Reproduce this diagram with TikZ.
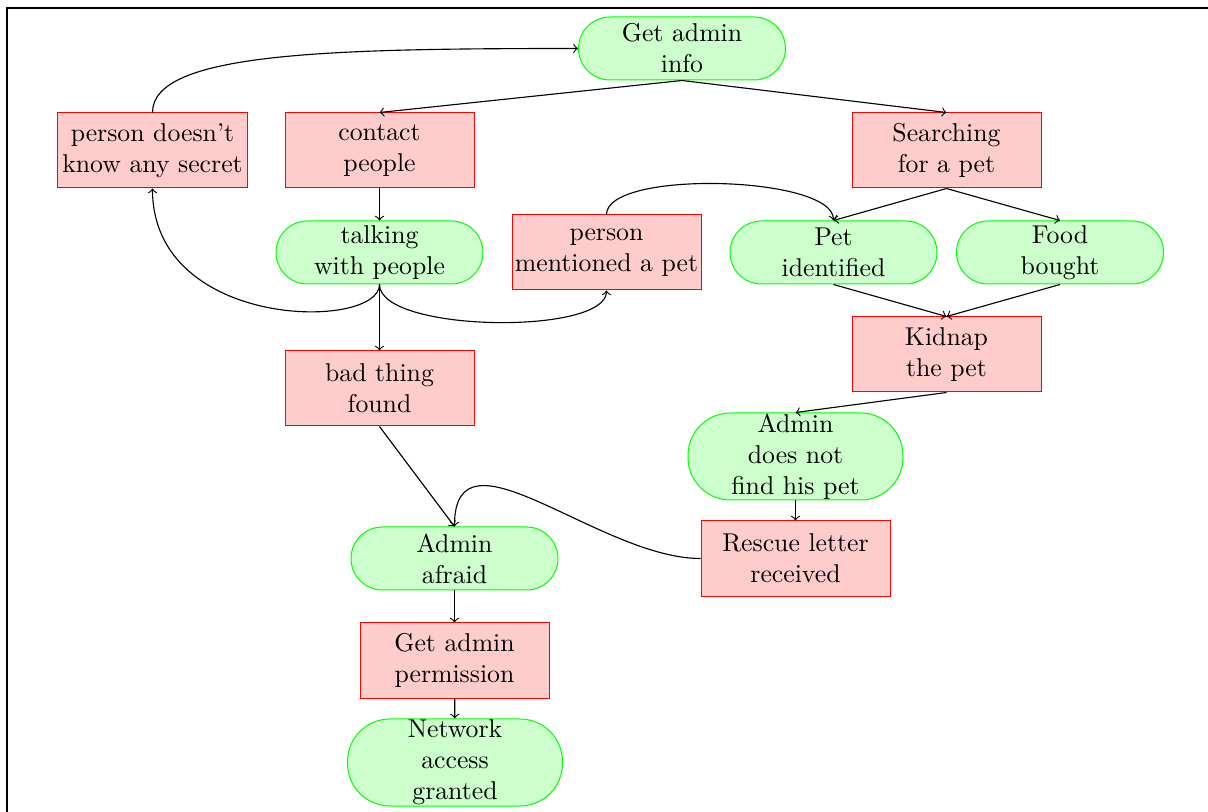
\documentclass[tikz,border=0pt]{standalone}
\usepackage{tikz}
\usetikzlibrary{arrows}

\tikzset{
  redbox/.style={rectangle, draw=red, fill=red!20, inner sep=0pt, align=center, thin,
                 font=\fontsize{10.3}{12.4}\selectfont,
                 minimum width=75.6pt, minimum height=30pt},
  greenbox/.style={rectangle, draw=green, fill=green!20, inner sep=0pt, align=center, thin,
                   font=\fontsize{10.3}{12.4}\selectfont,
                   rounded corners=12.6pt, minimum width=82.8pt, minimum height=25.2pt},
  tallgreen/.style={greenbox, rounded corners=17pt, minimum width=86pt, minimum height=34.8pt}
}

\begin{document}
\begin{tikzpicture}[x=0.4pt, y=0.4pt, >=to]
       \useasboundingbox (0,0) rectangle (1208,-812);
       % frame
       \draw [semithick] (7,-812) -- (7,-8) -- (1208,-8);

       % nodes
       \node [greenbox] (getinfo) at (682,-48.5) {Get admin\\info};
       \node [redbox] (nosecret) at (152.5,-150.5) {person doesn't\\know any secret};
       \node [redbox] (contact) at (379.5,-150.5) {contact\\people};
       \node [redbox] (search) at (946.5,-150.5) {Searching\\for a pet};
       \node [greenbox] (talking) at (379.5,-252.5) {talking\\with people};
       \node [redbox] (mentioned) at (606.5,-252.5) {person\\mentioned a pet};
       \node [greenbox] (petid) at (833.5,-252.5) {Pet\\identified};
       \node [greenbox] (food) at (1060,-252.5) {Food\\bought};
       \node [redbox] (kidnap) at (946.5,-354.5) {Kidnap\\the pet};
       \node [redbox] (badthing) at (379.5,-388.5) {bad thing\\found};
       \node [tallgreen] (notfind) at (795.5,-456.5) {Admin\\does not\\find his pet};
       \node [redbox] (rescue) at (795.5,-558.5) {Rescue letter\\received};
       \node [greenbox] (afraid) at (454.5,-558.5) {Admin\\afraid};
       \node [redbox] (permission) at (454.5,-660.5) {Get admin\\permission};
       \node [tallgreen] (granted) at (455,-762.5) {Network\\access\\granted};

       % edges
       \begin{scope}[line width=0.45pt]
       \draw [->] (getinfo.south) -- (contact.north);
       \draw [->] (getinfo.south) -- (search.north);
       \draw [->] (nosecret.north) .. controls +(0,60) and +(-250,0) .. (getinfo.west);
       \draw [->] (contact) -- (talking);
       \draw [->] (talking.south) .. controls +(0,-46) and +(0,-142) .. (nosecret.south);
       \draw [->] (talking.south) .. controls +(0,-48) and +(0,-45) .. (mentioned.south);
       \draw [->] (talking) -- (badthing);
       \draw [->] (mentioned.north) .. controls +(0,45) and +(0,45) .. (petid.north);
       \draw [->] (search.south) -- (petid.north);
       \draw [->] (search.south) -- (food.north);
       \draw [->] (petid.south) -- (kidnap.north);
       \draw [->] (food.south) -- (kidnap.north);
       \draw [->] (kidnap.south) -- (notfind.north);
       \draw [->] (notfind) -- (rescue);
       \draw [->] (badthing.south) -- (afraid.north);
       \draw [->] (rescue.west) .. controls +(-101,0) and +(0,107) .. (afraid.north);
       \draw [->] (afraid) -- (permission);
       \draw [->] (permission) -- (granted);
       \end{scope}
\end{tikzpicture}
\end{document}
